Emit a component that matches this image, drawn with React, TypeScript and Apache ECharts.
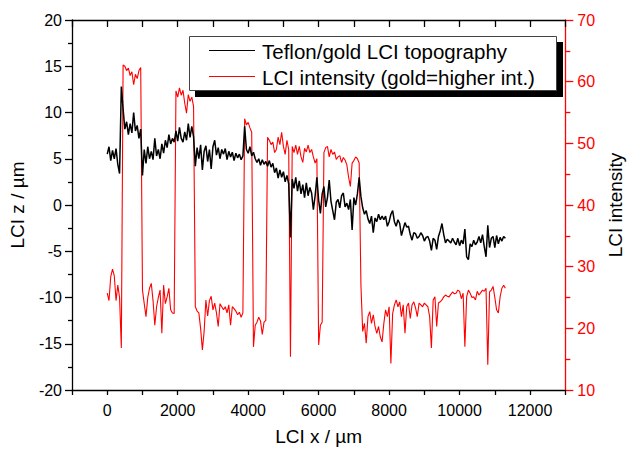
import React, { useEffect, useRef } from "react";
import * as echarts from "echarts";

// Sample spacing along LCI x (µm); samples start at x = 0
const xStart = 0;
const xStep = 50;

// LCI z / µm (Teflon/gold LCI topography), left axis
const topography = [
  5.5, 6.3, 4.8, 5.9, 5.0, 6.1, 4.4, 3.4, 12.8, 10.4,
  8.2, 9.0, 7.6, 8.8, 7.8, 10.0, 8.0, 8.6, 7.2, 8.2,
  3.2, 6.0, 4.5, 6.3, 5.0, 5.8, 4.9, 7.2, 5.3, 6.0,
  5.0, 6.6, 5.6, 7.0, 6.2, 7.6, 6.6, 7.2, 6.8, 8.0,
  6.9, 8.4, 7.2, 6.8, 7.9, 7.0, 8.8, 7.3, 8.5, 7.4,
  4.2, 6.2, 5.0, 6.5, 3.8, 5.8, 6.4, 4.7, 6.0, 3.9,
  6.3, 7.0, 5.4, 6.2, 5.0, 6.0, 5.5, 6.1, 4.9, 5.8,
  5.2, 5.7, 4.8, 5.6, 5.1, 5.5, 4.9, 5.3, 8.5, 6.0,
  5.6, 6.3, 5.3, 5.7, 5.0, 4.6, 5.0, 4.3, 4.9, 4.4,
  4.7, 4.2, 4.8, 4.1, 4.5, 3.5, 4.0, 2.9, 3.8, 3.0,
  3.6, 2.5, 3.2, 2.3, -3.5, 2.8, 1.8, 3.0, 1.5, 2.6,
  1.2, 2.2, 0.8, 2.4, 1.0, 1.9, 1.3, -0.5, 1.0, 3.0,
  0.5, -0.9, 1.2, 2.0, -0.2, 0.8, 2.7, 0.4, -0.6, -1.6,
  0.3, 0.6, -0.3, 1.0, 1.3, -0.2, 0.2, -0.5, 0.6, -2.7,
  0.8, 0.0, 1.2, 3.0, 0.9, -0.3, -1.0, -0.6, -1.5, -2.0,
  -1.2, -3.0, -1.4, -1.8, -1.0, -1.6, -1.2, -1.6, -1.2, -2.3,
  -1.8, -1.0, -0.6, -1.8, -2.3, -1.6, -2.0, -3.3, -2.6, -1.9,
  -2.4, -2.3, -3.2, -3.8, -3.0, -3.1, -3.6, -3.4, -3.0, -3.3,
  -3.9, -3.5, -3.4, -3.9, -4.9, -3.6, -3.8, -4.8, -3.4, -2.8,
  -2.0, -3.2, -4.1, -3.7, -3.9, -4.1, -3.6, -4.0, -4.3, -3.6,
  -4.4, -3.8, -4.2, -2.6, -5.6, -5.9, -4.2, -4.5, -3.8, -4.3,
  -4.0, -3.4, -4.1, -3.2, -4.5, -5.6, -2.2, -4.6, -3.6, -3.4,
  -4.6, -3.3, -4.2, -3.5, -3.9, -3.4, -3.6,
];

// LCI intensity (gold = higher intensity), right axis
const intensity = [
  25.7, 24.5, 28.4, 29.6, 28.5, 24.5, 27.0, 25.0, 16.8, 62.7,
  62.5, 61.8, 62.2, 61.0, 61.6, 59.5, 61.2, 60.5, 61.8, 62.3,
  26.2, 24.0, 21.9, 25.0, 26.5, 27.3, 24.5, 20.5, 23.5, 25.0,
  26.2, 19.2, 27.0, 24.0, 25.1, 26.5, 23.0, 22.5, 22.4, 58.5,
  57.5, 59.0, 57.8, 58.6, 56.5, 54.9, 57.9, 56.8, 57.5, 56.0,
  23.5, 22.8, 22.5, 20.0, 16.5, 19.5, 24.6, 22.0, 24.5, 25.2,
  23.0, 24.1, 22.5, 20.3, 24.0, 23.5, 23.0, 23.5, 22.5, 23.8,
  20.5, 23.5, 23.2, 22.8, 22.2, 22.6, 21.8, 22.5, 54.0, 53.0,
  53.4, 52.5, 51.8, 17.0, 20.5, 21.0, 21.8, 21.2, 19.0, 21.0,
  21.3, 51.0, 50.5, 49.8, 50.2, 48.5, 49.0, 51.0, 49.8, 51.8,
  49.5, 48.2, 50.5, 49.0, 15.4, 49.5, 48.5, 49.7, 48.2, 49.5,
  47.8, 46.9, 49.2, 48.6, 49.7, 48.5, 49.0, 47.8, 46.8, 47.5,
  17.3, 20.5, 21.0, 48.5, 49.3, 49.5, 47.8, 49.0, 48.2, 48.6,
  47.4, 47.8, 48.0, 46.9, 47.7, 47.3, 46.5, 44.5, 43.0, 46.8,
  47.2, 47.8, 47.5, 46.8, 27.0, 19.5, 20.8, 17.6, 21.9, 22.7,
  20.8, 22.2, 20.3, 19.2, 20.3, 18.6, 17.8, 20.8, 23.0, 21.9,
  23.5, 14.3, 22.4, 23.8, 24.6, 23.5, 24.3, 21.9, 23.8, 19.2,
  23.5, 24.1, 21.6, 23.8, 24.3, 23.3, 21.9, 24.1, 23.8, 23.5,
  24.1, 23.8, 23.5, 21.9, 16.8, 24.6, 25.1, 20.3, 24.1, 24.3,
  24.6, 25.1, 25.4, 25.2, 25.1, 25.5, 25.9, 25.6, 25.7, 26.2,
  26.0, 24.8, 25.7, 17.0, 25.1, 26.2, 25.7, 25.0, 25.1, 24.6,
  26.0, 25.4, 25.8, 26.2, 26.0, 26.5, 14.1, 25.9, 26.2, 26.8,
  25.0, 23.0, 22.5, 25.1, 26.5, 27.0, 26.5,
];

const seriesNames = ["Teflon/gold LCI topography", "LCI intensity (gold=higher int.)"];
const axisNames = { x: "LCI x / µm", left: "LCI z / µm", right: "LCI intensity" };

const FONT = "'Liberation Sans', Arial, Helvetica, sans-serif";

export default function App() {
  const ref = useRef<HTMLDivElement>(null);

  useEffect(() => {
    if (!ref.current) return;
    const chart = echarts.init(ref.current, undefined, { renderer: "svg" });

    const topoData = topography.map((v, i) => [xStart + i * xStep, v]);
    const intData = intensity.map((v, i) => [xStart + i * xStep, v]);

    const black = "#000";
    const red = "#ff0000";

    chart.setOption({
      animation: false,
      backgroundColor: "#fff",
      textStyle: { fontFamily: FONT },
      grid: { left: 72, right: 58, top: 20, bottom: 61, containLabel: false },
      xAxis: [
        {
          type: "value",
          position: "bottom",
          min: -1000,
          max: 13000,
          interval: 1000,
          axisLine: { show: true, onZero: false, lineStyle: { color: black, width: 1.3 } },
          axisTick: { show: true, inside: false, length: 5, lineStyle: { color: black, width: 1.3 } },
          axisLabel: {
            fontSize: 16,
            color: black,
            margin: 12,
            fontFamily: FONT,
            formatter: (v: number) => (v >= 0 && v <= 12000 && v % 2000 === 0 ? String(v) : ""),
          },
          splitLine: { show: false },
          name: axisNames.x,
          nameLocation: "middle",
          nameGap: 37,
          nameTextStyle: { fontSize: 19, color: black, fontFamily: FONT },
        },
        {
          type: "value",
          position: "top",
          min: -1000,
          max: 13000,
          interval: 1000,
          axisLine: { show: true, onZero: false, lineStyle: { color: black, width: 1.3 } },
          axisTick: { show: true, inside: true, length: 7, lineStyle: { color: black, width: 1.3 } },
          axisLabel: { show: false },
          splitLine: { show: false },
        },
      ],
      yAxis: [
        {
          type: "value",
          position: "left",
          min: -20,
          max: 20,
          interval: 5,
          axisLine: { show: true, onZero: false, lineStyle: { color: black, width: 1.3 } },
          axisTick: { show: true, inside: false, length: 7, lineStyle: { color: black, width: 1.3 } },
          minorTick: { show: true, splitNumber: 2, length: 4, lineStyle: { color: black, width: 1.3 } },
          axisLabel: { fontSize: 16, color: black, margin: 10, fontFamily: FONT },
          splitLine: { show: false },
          minorSplitLine: { show: false },
          name: axisNames.left,
          nameLocation: "middle",
          nameGap: 45,
          nameTextStyle: { fontSize: 19, color: black, fontFamily: FONT },
        },
        {
          type: "value",
          position: "right",
          min: 10,
          max: 70,
          interval: 10,
          axisLine: { show: true, onZero: false, lineStyle: { color: red, width: 1.3 } },
          axisTick: { show: true, inside: false, length: 8, lineStyle: { color: red, width: 1.3 } },
          minorTick: { show: true, splitNumber: 2, length: 5, lineStyle: { color: red, width: 1.3 } },
          axisLabel: { fontSize: 16, color: red, margin: 12, fontFamily: FONT },
          splitLine: { show: false },
          minorSplitLine: { show: false },
          name: axisNames.right,
          nameLocation: "middle",
          nameGap: 38,
          nameTextStyle: { fontSize: 19, color: black, fontFamily: FONT },
        },
      ],
      series: [
        {
          name: seriesNames[1],
          type: "line",
          xAxisIndex: 0,
          yAxisIndex: 1,
          data: intData,
          showSymbol: false,
          symbol: "none",
          lineStyle: { color: red, width: 1.1 },
          itemStyle: { color: red },
          z: 2,
        },
        {
          name: seriesNames[0],
          type: "line",
          xAxisIndex: 0,
          yAxisIndex: 0,
          data: topoData,
          showSymbol: false,
          symbol: "none",
          lineStyle: { color: black, width: 1.5 },
          itemStyle: { color: black },
          z: 3,
        },
      ],
      graphic: [
        {
          type: "rect",
          z: 100,
          shape: { x: 195, y: 42, width: 368, height: 55 },
          style: { fill: "#000" },
        },
        {
          type: "rect",
          z: 101,
          shape: { x: 189.5, y: 36.5, width: 367, height: 54 },
          style: { fill: "#fff", stroke: "#444", lineWidth: 1 },
        },
        {
          type: "line",
          z: 102,
          shape: { x1: 209, y1: 50.5, x2: 255, y2: 50.5 },
          style: { stroke: black, lineWidth: 1.2 },
        },
        {
          type: "text",
          z: 102,
          x: 262,
          y: 51,
          style: {
            text: seriesNames[0],
            fontSize: 20.5,
            fontFamily: FONT,
            fill: black,
            verticalAlign: "middle",
            textVerticalAlign: "middle",
          },
        },
        {
          type: "line",
          z: 102,
          shape: { x1: 209, y1: 76.5, x2: 255, y2: 76.5 },
          style: { stroke: red, lineWidth: 1 },
        },
        {
          type: "text",
          z: 102,
          x: 262,
          y: 77,
          style: {
            text: seriesNames[1],
            fontSize: 20.5,
            fontFamily: FONT,
            fill: black,
            verticalAlign: "middle",
            textVerticalAlign: "middle",
          },
        },
      ],
    });

    return () => {
      chart.dispose();
    };
  }, []);

  return (
    <div
      ref={ref}
      style={{ position: "fixed", left: 0, top: 0, width: 633, height: 451, background: "#fff" }}
    />
  );
}
